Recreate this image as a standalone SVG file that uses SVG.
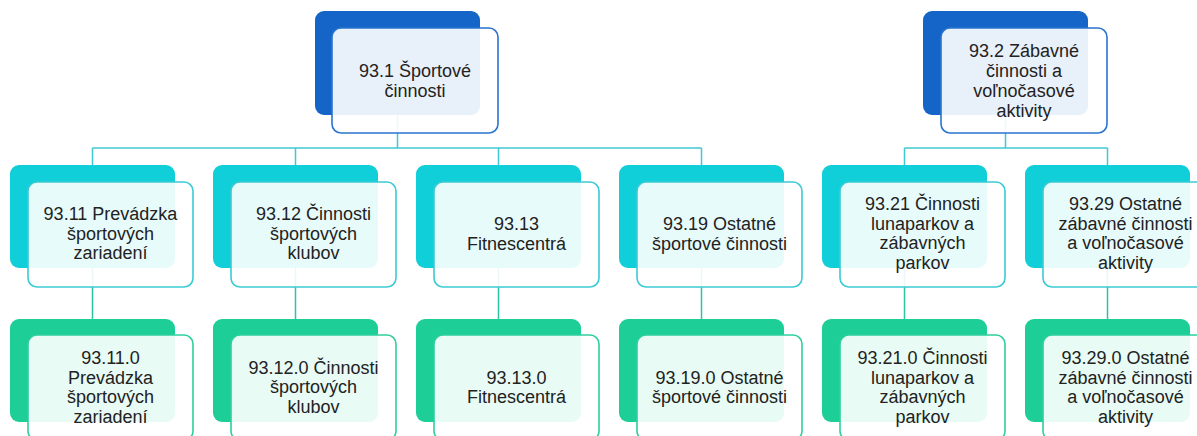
<svg xmlns="http://www.w3.org/2000/svg" width="1197" height="436" viewBox="0 0 1197 436">
<style>
.bg{fill:#ffffff}
.b1{fill:#1565c8}
.f1{fill:#ffffff;fill-opacity:0.9;stroke:#2a74d0;stroke-width:1.6}
.b2{fill:#10cfd8}
.f2{fill:#ffffff;fill-opacity:0.9;stroke:#3ccad4;stroke-width:1.6}
.b3{fill:#1dcf97}
.f3{fill:#ffffff;fill-opacity:0.9;stroke:#2ecf9e;stroke-width:1.6}
.c1{fill:none;stroke:#40c8d4;stroke-width:1.5}
.c2{fill:none;stroke:#2cc4a4;stroke-width:1.5}
text{font-family:"Liberation Sans",Arial,sans-serif;font-size:18px;fill:#222222;text-anchor:middle}
</style>
<rect class="bg" x="0" y="0" width="1197" height="436"/>
<g id="connectors">
<path class="c1" d="M397.5 115V148M92.5 148H701.5M92.5 148V165M295.5 148V165M498.5 148V165M701.5 148V165"/>
<path class="c1" d="M1005.5 115V148M904.5 148H1107.5M904.5 148V165M1107.5 148V165"/>
<path class="c2" d="M92.5 268V319M295.5 268V319M498.5 268V319M701.5 268V319M904.5 268V319M1107.5 268V319"/>
</g>
<g id="n93_1">
<rect class="b1" x="315" y="11" width="165" height="104" rx="9"/>
<rect class="f1" x="332" y="28" width="166" height="105" rx="9"/>
<text x="415" y="77">93.1 Športové</text>
<text x="415" y="97">činnosti</text>
</g>
<g id="n93_2">
<rect class="b1" x="923" y="11" width="165" height="104" rx="9"/>
<rect class="f1" x="941" y="28" width="166" height="105" rx="9"/>
<text x="1024" y="57">93.2 Zábavné</text>
<text x="1024" y="77">činnosti a</text>
<text x="1024" y="97">voľnočasové</text>
<text x="1024" y="117">aktivity</text>
</g>
<g id="n93_11">
<rect class="b2" x="10" y="165" width="165" height="103" rx="9"/>
<rect class="f2" x="28" y="182" width="165" height="105" rx="9"/>
<text x="110.5" y="220">93.11 Prevádzka</text>
<text x="110.5" y="239.5">športových</text>
<text x="110.5" y="259">zariadení</text>
</g>
<g id="n93_12">
<rect class="b2" x="213" y="165" width="165" height="103" rx="9"/>
<rect class="f2" x="231" y="182" width="165" height="105" rx="9"/>
<text x="313.5" y="220">93.12 Činnosti</text>
<text x="313.5" y="239.5">športových</text>
<text x="313.5" y="259">klubov</text>
</g>
<g id="n93_13">
<rect class="b2" x="416" y="165" width="165" height="103" rx="9"/>
<rect class="f2" x="434" y="182" width="165" height="105" rx="9"/>
<text x="516.5" y="230">93.13</text>
<text x="516.5" y="249.5">Fitnescentrá</text>
</g>
<g id="n93_19">
<rect class="b2" x="619" y="165" width="165" height="103" rx="9"/>
<rect class="f2" x="637" y="182" width="165" height="105" rx="9"/>
<text x="719.5" y="230">93.19 Ostatné</text>
<text x="719.5" y="249.5">športové činnosti</text>
</g>
<g id="n93_21">
<rect class="b2" x="822" y="165" width="165" height="103" rx="9"/>
<rect class="f2" x="840" y="182" width="165" height="105" rx="9"/>
<text x="922.5" y="210">93.21 Činnosti</text>
<text x="922.5" y="229.5">lunaparkov a</text>
<text x="922.5" y="249">zábavných</text>
<text x="922.5" y="268.5">parkov</text>
</g>
<g id="n93_29">
<rect class="b2" x="1025" y="165" width="165" height="103" rx="9"/>
<rect class="f2" x="1043" y="182" width="165" height="105" rx="9"/>
<text x="1125.5" y="210">93.29 Ostatné</text>
<text x="1125.5" y="229.5">zábavné činnosti</text>
<text x="1125.5" y="249">a voľnočasové</text>
<text x="1125.5" y="268.5">aktivity</text>
</g>
<g id="n93_11_0">
<rect class="b3" x="10" y="319" width="165" height="103" rx="9"/>
<rect class="f3" x="28" y="335" width="165" height="105" rx="9"/>
<text x="110.5" y="364">93.11.0</text>
<text x="110.5" y="383.5">Prevádzka</text>
<text x="110.5" y="403">športových</text>
<text x="110.5" y="422.5">zariadení</text>
</g>
<g id="n93_12_0">
<rect class="b3" x="213" y="319" width="165" height="103" rx="9"/>
<rect class="f3" x="231" y="335" width="165" height="105" rx="9"/>
<text x="313.5" y="373.5">93.12.0 Činnosti</text>
<text x="313.5" y="393">športových</text>
<text x="313.5" y="412.5">klubov</text>
</g>
<g id="n93_13_0">
<rect class="b3" x="416" y="319" width="165" height="103" rx="9"/>
<rect class="f3" x="434" y="335" width="165" height="105" rx="9"/>
<text x="516.5" y="383.5">93.13.0</text>
<text x="516.5" y="403">Fitnescentrá</text>
</g>
<g id="n93_19_0">
<rect class="b3" x="619" y="319" width="165" height="103" rx="9"/>
<rect class="f3" x="637" y="335" width="165" height="105" rx="9"/>
<text x="719.5" y="383.5">93.19.0 Ostatné</text>
<text x="719.5" y="403">športové činnosti</text>
</g>
<g id="n93_21_0">
<rect class="b3" x="822" y="319" width="165" height="103" rx="9"/>
<rect class="f3" x="840" y="335" width="165" height="105" rx="9"/>
<text x="922.5" y="364">93.21.0 Činnosti</text>
<text x="922.5" y="383.5">lunaparkov a</text>
<text x="922.5" y="403">zábavných</text>
<text x="922.5" y="422.5">parkov</text>
</g>
<g id="n93_29_0">
<rect class="b3" x="1025" y="319" width="165" height="103" rx="9"/>
<rect class="f3" x="1043" y="335" width="165" height="105" rx="9"/>
<text x="1125.5" y="364">93.29.0 Ostatné</text>
<text x="1125.5" y="383.5">zábavné činnosti</text>
<text x="1125.5" y="403">a voľnočasové</text>
<text x="1125.5" y="422.5">aktivity</text>
</g>
</svg>
